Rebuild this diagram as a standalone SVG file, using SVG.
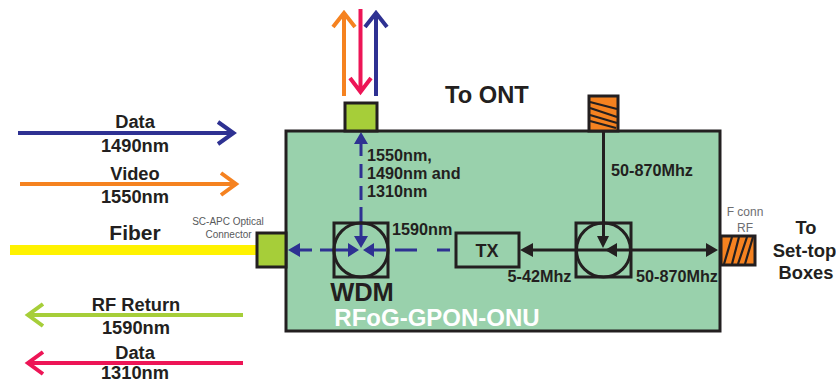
<svg xmlns="http://www.w3.org/2000/svg" width="836" height="383" viewBox="0 0 836 383">
<style>
text{font-family:"Liberation Sans",Arial,sans-serif;font-weight:700;fill:#231f20}
.m{text-anchor:middle}
.l{font-size:18.300px}
.s{font-size:16.200px}
.t{font-size:10px;font-weight:400;fill:#58595b}
.f{font-size:12px;font-weight:400;fill:#6d6e71}
.k{fill:none;stroke:#231f20;stroke-width:3}
.a{fill:none;stroke-width:4}
.ln{fill:none;stroke:#231f20;stroke-width:3}
.d{fill:none;stroke:#2e3192;stroke-width:3}
.hk{fill:#231f20}
.hb{fill:#2e3192}
.st{stroke:#231f20;stroke-width:2.200;fill:none}
</style>
<g id="onu-body"><rect x="286" y="131" width="434" height="200" fill="#99d1ac" stroke="#231f20" stroke-width="3"/>
<text x="437" y="326" class="m" style="fill:#fff;font-size:24px">RFoG-GPON-ONU</text></g>
<g id="fiber"><rect x="10" y="245" width="247" height="10" fill="#fff200"/><text x="135" y="240" class="m" style="font-size:21px">Fiber</text></g>
<g id="connectors">
<g class="a" stroke="#2e3192"><path d="M18 133H232M218 122L233.500 133L218 144"/></g>
<g class="a" stroke="#f58220"><path d="M20 184H234M221 173L236 184L221 195"/></g>
<g class="a" stroke="#a6ce39"><path d="M243 315H29M43 304L28 315L43 326"/></g>
<g class="a" stroke="#ed1556"><path d="M243 363H29M43 352L28 363L43 374"/></g>
<g class="a" stroke="#f58220"><path d="M344 96V14M333 27L344 13L355 27"/></g>
<g class="a" stroke="#ed1556"><path d="M360.500 9V91M350 78L360.500 92L371 78"/></g>
<g class="a" stroke="#2e3192"><path d="M376 96V14M365 27L376 13L387 27"/></g>
<path class="d" d="M361 144V156M361 164V178M361 186V200M361 207V222M361 222V238M300 250H312M320 250H342M342 250H350M372 250H386M395 250H417M437 250H450"/>
<path class="hb" d="M361 132L368 144H354ZM361 248L354 236H368ZM288 250L300 243V257ZM359 250L348 243V257ZM363 250L374 243V257Z"/>
<path class="ln" d="M603.500 131V238M530 250H708"/>
<path class="hk" d="M520 250L533 243V257ZM603 248L597 236H609ZM605 250L617 243V257ZM718 250L706 243V257Z"/>
</g>
<g id="top-optical-connector"><rect x="345" y="103" width="32" height="28" fill="#a6ce39" stroke="#231f20" stroke-width="3"/></g>
<g id="sc-apc-connector"><rect x="257" y="233" width="29" height="34" fill="#a6ce39" stroke="#231f20" stroke-width="3"/>
<text x="228" y="225" class="t m">SC-APC Optical</text><text x="228.500" y="238" class="t m">Connector</text></g>
<g id="top-rf-connector"><rect x="589" y="96" width="29" height="35" fill="#f58220" stroke="#231f20" stroke-width="3"/>
<path class="st" d="M590 102L617 109M590 108L617 117M590 115L617 123M590 121L616 128"/></g>
<g id="f-connector"><rect x="721" y="236" width="34" height="29" fill="#f58220" stroke="#231f20" stroke-width="3"/>
<path class="st" d="M724 264L732 237M732 264L739 237M738 264L747 237M745 264L753 237"/>
<text x="745" y="216" class="f m">F conn</text><text x="745" y="232" class="f m">RF</text></g>
<g id="wdm"><rect x="334" y="223" width="54" height="54" class="k"/><circle cx="361" cy="250" r="27" class="k"/>
<text x="362" y="301" class="m" style="font-size:25.500px">WDM</text></g>
<g id="splitter"><rect x="576" y="223" width="55" height="54" class="k"/><circle cx="603.500" cy="250" r="27" class="k"/></g>
<g id="tx"><rect x="456" y="233" width="63" height="34" class="k"/><text x="487" y="257" class="m" style="font-size:18px">TX</text></g>
<g id="labels">
<text x="135" y="128" class="m l">Data</text><text x="135" y="152" class="m l">1490nm</text>
<text x="135" y="180" class="m l">Video</text><text x="135" y="203" class="m l">1550nm</text>
<text x="136" y="311" class="m l">RF Return</text><text x="136" y="334" class="m l">1590nm</text>
<text x="135" y="359" class="m l">Data</text><text x="135" y="379" class="m l">1310nm</text>
<text x="445" y="103" style="font-size:23.700px">To ONT</text>
<text x="367" y="160.500" class="s">1550nm,</text><text x="367" y="179" class="s">1490nm and</text><text x="367" y="197" class="s">1310nm</text>
<text x="392" y="235" class="s">1590nm</text>
<text x="507.500" y="282" class="s">5-42Mhz</text>
<text x="611" y="176" class="s">50-870Mhz</text>
<text x="636" y="282" class="s">50-870Mhz</text>
<text x="806" y="234" class="m l">To</text><text x="804.500" y="257" class="m" style="font-size:18.500px">Set-top</text><text x="806" y="279" class="m l">Boxes</text>
</g>
</svg>
